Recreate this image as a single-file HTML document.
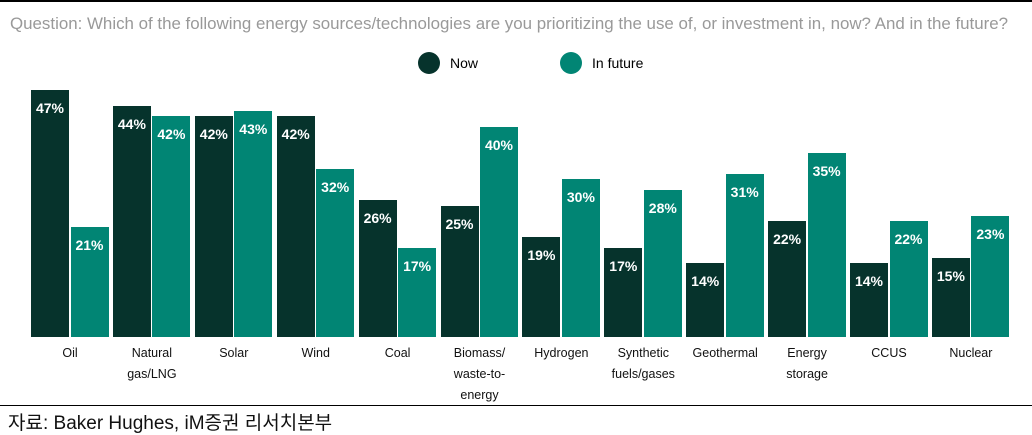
<!DOCTYPE html><html><head><meta charset="utf-8"><style>
body{margin:0;width:1032px;height:435px;background:#fff;position:relative;overflow:hidden;font-family:"Liberation Sans",sans-serif}
.b{position:absolute;bottom:98px;width:38px}
.n{background:#06332c}.f{background:#018574}
.v{position:absolute;left:-4px;right:-4px;text-align:center;color:#fff;font-weight:bold;font-size:14px}
.l{position:absolute;top:343px;width:90px;text-align:center;font-size:12.5px;line-height:21px;color:#111}
</style></head><body>
<div style="position:absolute;top:0;left:0;width:1032px;height:2px;background:#000"></div>
<div style="position:absolute;top:14px;left:10px;font-size:16.9px;color:#999;white-space:nowrap">Question: Which of the following energy sources/technologies are you prioritizing the use of, or investment in, now? And in the future?</div>
<div style="position:absolute;top:52px;left:418px;width:22px;height:22px;border-radius:50%;background:#06332c"></div>
<div style="position:absolute;top:55px;left:450px;font-size:14px">Now</div>
<div style="position:absolute;top:52px;left:560px;width:22px;height:22px;border-radius:50%;background:#018574"></div>
<div style="position:absolute;top:55px;left:592px;font-size:14px">In future</div>
<div id="c"></div>
<div style="position:absolute;top:405px;left:0;width:1032px;height:1px;background:#000"></div>
<div style="position:absolute;top:408px;left:8px;font-size:19px;color:#111;font-family:'Liberation Sans','Noto Sans CJK KR',sans-serif">자료: Baker Hughes, iM증권 리서치본부</div>
<script>
var d=[["Oil",47,21],["Natural<br>gas/LNG",44,42],["Solar",42,43],["Wind",42,32],["Coal",26,17],["Biomass/<br>waste-to-<br>energy",25,40],["Hydrogen",19,30],["Synthetic<br>fuels/gases",17,28],["Geothermal",14,31],["Energy<br>storage",22,35],["CCUS",14,22],["Nuclear",15,23]];
var h="";d.forEach(function(r,i){var x=31+i*81.9;
[[r[1],"n",x],[r[2],"f",x+39.5]].forEach(function(s){var H=s[0]*5.26;h+='<div class="b '+s[1]+'" style="left:'+s[2]+'px;height:'+H+'px"><div class="v" style="top:'+(H>60?10:Math.max(6,H/2-8))+'px">'+s[0]+'%</div></div>';});
h+='<div class="l" style="left:'+(x-6)+'px">'+r[0]+'</div>';});
document.getElementById("c").innerHTML=h;
</script></body></html>
